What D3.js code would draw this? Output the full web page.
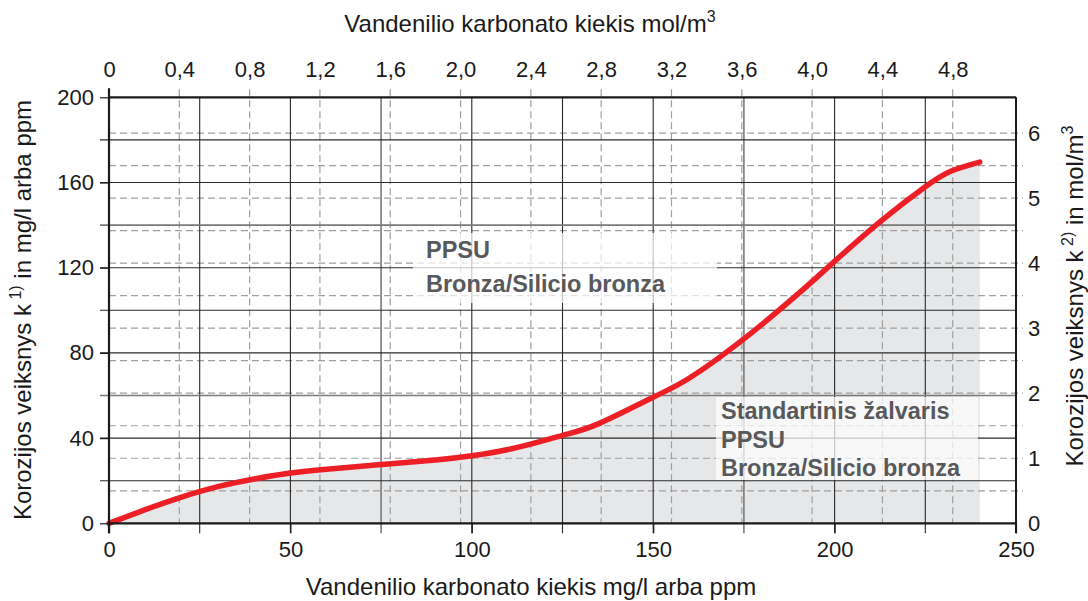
<!DOCTYPE html>
<html>
<head>
<meta charset="utf-8">
<script src="https://cdn.jsdelivr.net/npm/d3@7"></script>
<style>
  html, body { margin: 0; padding: 0; background: #fff; }
  svg { display: block; font-family: "Liberation Sans", Arial, sans-serif; }
</style>
</head>
<body>
<svg id="chart" width="1088" height="601"></svg>
<script>
// Corrosion factor vs. hydrogen carbonate content
const carbonateMgL = [0, 10, 20, 30, 40, 50, 60, 75, 90, 100, 112, 125, 135, 150, 160, 175, 190, 200, 213, 225, 232, 240];
const corrosionFactor = [0, 6.4, 12.3, 17.2, 20.8, 23.6, 25.4, 27.6, 29.7, 31.7, 35.4, 41.3, 46.8, 59.2, 68.2, 86.6, 107.8, 123, 142.2, 158, 165.3, 169.6];

const bottomTicks = [0, 50, 100, 150, 200, 250];
const leftTicks = [0, 40, 80, 120, 160, 200];
const topTicks = [0, 0.4, 0.8, 1.2, 1.6, 2.0, 2.4, 2.8, 3.2, 3.6, 4.0, 4.4, 4.8];
const rightTicks = [0, 1, 2, 3, 4, 5, 6];
const solidX = [25, 50, 75, 100, 125, 150, 175, 200, 225];
const solidY = [20, 40, 60, 80, 100, 120, 140, 160, 180];
const dashedY = [0.5, 1, 1.5, 2, 2.5, 3, 3.5, 4, 4.5, 5, 5.5, 6];

const boxUpperLines = ["PPSU", "Bronza/Silicio bronza"];
const boxLowerLines = ["Standartinis žalvaris", "PPSU", "Bronza/Silicio bronza"];

const margin = { left: 109, right: 72, top: 97.3, bottom: 77.7 };
const W = 1088, H = 601;
const x0 = margin.left, x1 = W - margin.right;
const y0 = H - margin.bottom, y1 = margin.top;

const x = d3.scaleLinear().domain([0, 250]).range([x0, x1]);
const xTop = d3.scaleLinear().domain([0, 5.16]).range([x0, x1]);
const y = d3.scaleLinear().domain([0, 200]).range([y0, y1]);
const yRight = d3.scaleLinear().domain([0, 6.55]).range([y0, y1]);

const svg = d3.select("#chart");
const data = carbonateMgL.map((v, i) => ({ x: v, y: corrosionFactor[i] }));
const smooth = d3.curveNatural;

// shaded region under the curve
svg.append("path")
  .datum(data)
  .attr("fill", "#e6e7e9")
  .attr("d", d3.area().x(d => x(d.x)).y0(y(0)).y1(d => y(d.y)).curve(smooth));

// dashed grid (mol/m³ scales)
svg.append("g").selectAll("line").data(topTicks.slice(1)).join("line")
  .attr("x1", d => xTop(d)).attr("x2", d => xTop(d))
  .attr("y1", y1 - 8).attr("y2", y0)
  .attr("stroke", "#9f9f9f").attr("stroke-width", 1.2).attr("stroke-dasharray", "7,4");

svg.append("g").selectAll("line").data(dashedY).join("line")
  .attr("x1", x0).attr("x2", x1 + 7)
  .attr("y1", d => yRight(d)).attr("y2", d => yRight(d))
  .attr("stroke", "#9f9f9f").attr("stroke-width", 1.2).attr("stroke-dasharray", "7,4");

// solid grid (mg/l scales)
const greyLines = new Set([75, 175, 60, 140]);
svg.append("g").selectAll("line").data(solidX).join("line")
  .attr("x1", d => x(d)).attr("x2", d => x(d))
  .attr("y1", y1).attr("y2", y0 + 10)
  .attr("stroke", d => greyLines.has(d) ? "#7a7a7a" : "#2a2a2a")
  .attr("stroke-width", d => greyLines.has(d) ? 1.6 : 1.1);

svg.append("g").selectAll("line").data(solidY).join("line")
  .attr("x1", x0 - 9).attr("x2", x1)
  .attr("y1", d => y(d)).attr("y2", d => y(d))
  .attr("stroke", d => greyLines.has(d) ? "#7a7a7a" : "#2a2a2a")
  .attr("stroke-width", d => greyLines.has(d) ? 1.6 : 1.1);

// curve
svg.append("path")
  .datum(data)
  .attr("fill", "none")
  .attr("stroke", "#ec1f27")
  .attr("stroke-width", 5.5)
  .attr("stroke-linecap", "round")
  .attr("d", d3.line().x(d => x(d.x)).y(d => y(d.y)).curve(smooth));

// frame
const frame = svg.append("g").attr("stroke", "#1a1a1a").attr("fill", "none");
frame.append("line").attr("x1", x0).attr("x2", x1).attr("y1", y1).attr("y2", y1).attr("stroke-width", 2.2);
frame.append("line").attr("x1", x0).attr("x2", x1).attr("y1", y0).attr("y2", y0).attr("stroke-width", 2.2);
frame.append("line").attr("x1", x0).attr("x2", x0).attr("y1", y1 - 9).attr("y2", y0 + 10).attr("stroke-width", 2.2);
frame.append("line").attr("x1", x1).attr("x2", x1).attr("y1", y1).attr("y2", y0 + 10).attr("stroke-width", 2);

// axes built from the scales
const fmtComma = d => d3.format(".1f")(d).replace(".", ",");

const axBottom = svg.append("g").attr("transform", `translate(0,${y0})`)
  .call(d3.axisBottom(x).tickValues(bottomTicks).tickSize(10).tickPadding(8));
const axLeft = svg.append("g").attr("transform", `translate(${x0},0)`)
  .call(d3.axisLeft(y).tickValues(leftTicks).tickSize(9).tickPadding(6));
const axTop = svg.append("g").attr("transform", `translate(0,${y1})`)
  .call(d3.axisTop(xTop).tickValues(topTicks).tickSize(0).tickPadding(20)
    .tickFormat(d => d === 0 ? "0" : fmtComma(d)));
const axRight = svg.append("g").attr("transform", `translate(${x1},0)`)
  .call(d3.axisRight(yRight).tickValues(rightTicks).tickSize(0).tickPadding(12)
    .tickFormat(d3.format("d")));

[axBottom, axLeft, axTop, axRight].forEach(g => {
  g.select(".domain").remove();
  g.selectAll(".tick line").attr("stroke", "#1a1a1a").attr("stroke-width", 1.2);
  g.selectAll("text").attr("fill", "#1a1a1a").style("font-size", "22px")
    .style("font-family", "'Liberation Sans', Arial, sans-serif");
});
axTop.selectAll(".tick line").remove();
axRight.selectAll(".tick line").remove();

// axis titles
const titleStyle = sel => sel.attr("fill", "#1a1a1a").style("font-size", "24px");

const topTitle = svg.append("text").attr("x", 530).attr("y", 32).attr("text-anchor", "middle").call(titleStyle);
topTitle.append("tspan").text("Vandenilio karbonato kiekis mol/m");
topTitle.append("tspan").attr("dy", -10).style("font-size", "16px").text("3");

svg.append("text").attr("x", 531).attr("y", 595).attr("text-anchor", "middle").call(titleStyle)
  .text("Vandenilio karbonato kiekis mg/l arba ppm");

const leftTitle = svg.append("text")
  .attr("transform", "translate(31,310) rotate(-90)")
  .attr("text-anchor", "middle").call(titleStyle);
leftTitle.append("tspan").text("Korozijos veiksnys k");
leftTitle.append("tspan").attr("dy", -10).style("font-size", "16px").text(" 1)");
leftTitle.append("tspan").attr("dy", 10).text(" in mg/l arba ppm");

const rightTitle = svg.append("text")
  .attr("transform", "translate(1083,296) rotate(-90)")
  .attr("text-anchor", "middle").call(titleStyle);
rightTitle.append("tspan").text("Korozijos veiksnys k");
rightTitle.append("tspan").attr("dy", -10).style("font-size", "16px").text(" 2)");
rightTitle.append("tspan").attr("dy", 10).text(" in mol/m");
rightTitle.append("tspan").attr("dy", -10).style("font-size", "16px").text("3");

// material label boxes
function labelBox(bx, by, bw, bh, tx, ty, lineGap, lines) {
  svg.append("rect").attr("x", bx).attr("y", by).attr("width", bw).attr("height", bh)
    .attr("fill", "#ffffff").attr("fill-opacity", 0.72);
  svg.append("g").selectAll("text").data(lines).join("text")
    .attr("x", tx).attr("y", (d, i) => ty + i * lineGap)
    .attr("fill", "#58595b").style("font-size", "23.5px").style("font-weight", "bold")
    .text(d => d);
}
labelBox(413, 233, 304, 70, 426, 258, 34, boxUpperLines);
labelBox(716, 397, 262, 83, 721, 419, 28.5, boxLowerLines);
</script>
</body>
</html>
